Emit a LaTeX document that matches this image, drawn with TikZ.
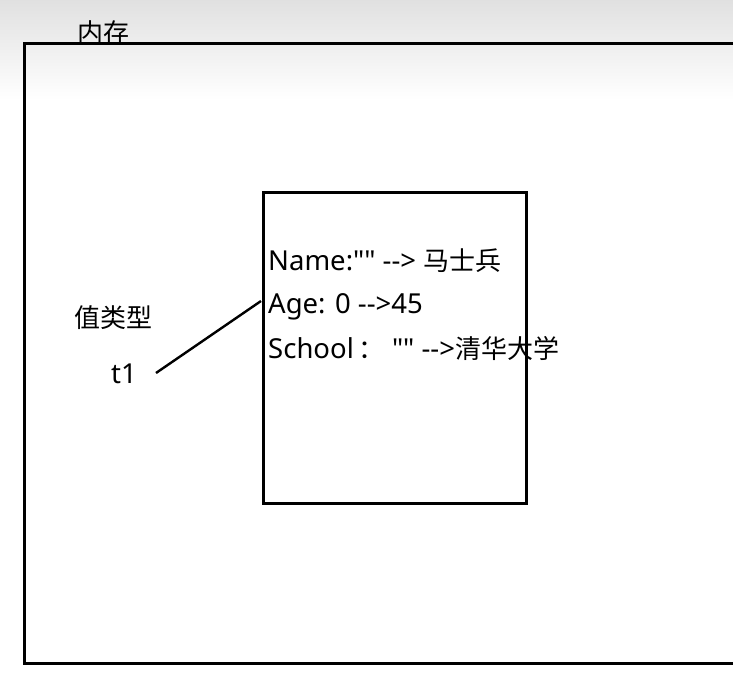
\documentclass[tikz,border=0pt]{standalone}
\usepackage{fontspec}
\newfontfamily\latn{Noto Sans}
\newfontfamily\cjk{Noto Sans CJK SC}
\newcommand\zh[1]{{\cjk\fontsize{26}{28}\selectfont #1}}
\begin{document}
\begin{tikzpicture}[x=1pt,y=-1pt,
  box/.style={draw=black,line width=3pt},
  lbl/.style={inner sep=0pt,anchor=base west,font=\latn\fontsize{27.5}{30}\selectfont},
  link/.style={draw=black,line width=2.4pt}]
\useasboundingbox (0,0) rectangle (733,673);
\clip (0,0) rectangle (733,673);
\shade[top color=black!12,bottom color=white] (0,0) rectangle (733,100);
\fill[white] (0,100) rectangle (733,673);
\draw[box] (24,43) rectangle (780,663);
\node[lbl] (mem) at (77,42) {\zh{内存}};
\draw[box] (263,192) rectangle (526,503);
\node[lbl] (name) at (268,270) {Name:"" --> \zh{马士兵}};
\node[lbl] (age) at (268,313) {Age: 0 -->45};
\node[lbl] (school) at (268,358) {School\hspace{5pt}\zh{：} "" -->\zh{清华大学}};
\node[lbl] (vt) at (74,327) {\zh{值类型}};
\node[lbl] (t1) at (111,383) {t1};
\coordinate (la) at (156,373);
\coordinate (lb) at (261,301);
\draw[link] (la) -- (lb);
\end{tikzpicture}
\end{document}
